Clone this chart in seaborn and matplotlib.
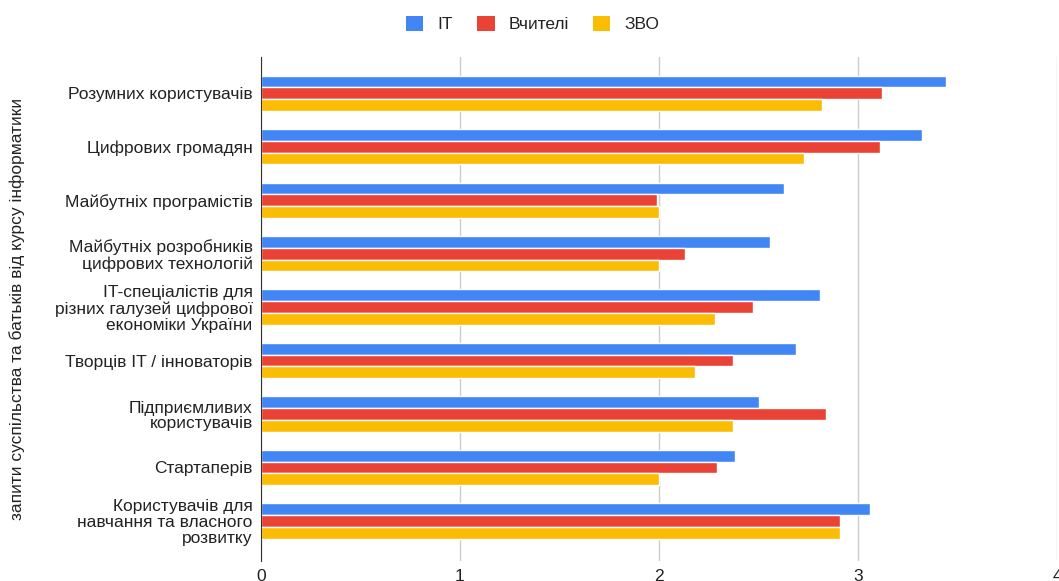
import matplotlib.pyplot as plt
import seaborn as sns
import pandas as pd

# data
categories = [
    "Розумних користувачів",
    "Цифрових громадян",
    "Майбутніх програмістів",
    "Майбутніх розробників\nцифрових технологій",
    "IT-спеціалістів для\nрізних галузей цифрової\nекономіки України",
    "Творців IT / інноваторів",
    "Підприємливих\nкористувачів",
    "Стартаперів",
    "Користувачів для\nнавчання та власного\nрозвитку",
]
it_vals = [3.44, 3.32, 2.63, 2.56, 2.81, 2.69, 2.50, 2.38, 3.06]
teach_vals = [3.12, 3.11, 1.99, 2.13, 2.47, 2.37, 2.84, 2.29, 2.91]
uni_vals = [2.82, 2.73, 2.00, 2.00, 2.28, 2.18, 2.37, 2.00, 2.91]
series = ["IT", "Вчителі", "ЗВО"]
colors = ["#4285F4", "#EA4335", "#FBBC04"]

df = pd.DataFrame({"cat": categories, "IT": it_vals, "Вчителі": teach_vals, "ЗВО": uni_vals})
long = df.melt(id_vars="cat", var_name="group", value_name="value")

sns.set_style("white")
plt.rcParams["font.family"] = ["Liberation Sans", "DejaVu Sans"]

fig = plt.figure(figsize=(10.59, 5.81), dpi=100)
ax = fig.add_axes([261 / 1059, 1 - 561 / 581, (1057 - 261) / 1059, (561 - 57) / 581])

sns.barplot(data=long, y="cat", x="value", hue="group", hue_order=series,
            palette=colors, saturation=1, orient="h", width=0.66,
            edgecolor="white", linewidth=1, ax=ax, legend=False)

ax.set_xlim(0, 4)
ax.set_ylim(8.75, -0.68)
ax.set_xticks([0, 1, 2, 3, 4])
ax.grid(axis="x", color="#cccccc", linewidth=1)
ax.set_axisbelow(True)
for s in ["top", "right", "bottom"]:
    ax.spines[s].set_visible(False)
ax.spines["left"].set_color("#333333")
ax.tick_params(axis="y", length=0, labelsize=12.5, colors="#222222", pad=6)
ax.tick_params(axis="x", length=0, labelsize=12.5, colors="#222222", pad=6)
ax.set_xlabel("")
ax.set_ylabel("запити суспільства та батьків від курсу інформатики",
              fontsize=12.5, color="#222222")
ax.yaxis.set_label_coords(-236 / (1057 - 261), 0.5)
for lbl in ax.get_yticklabels():
    lbl.set_horizontalalignment("right")
    lbl.set_multialignment("right")
    lbl.set_linespacing(1.08)

handles = [plt.Rectangle((0, 0), 1, 1, facecolor=c, edgecolor="none") for c in colors]
fig.legend(handles, series, loc="upper center", bbox_to_anchor=(0.503, 1.0),
           ncol=3, frameon=False, fontsize=12.5, handlelength=1.0, handleheight=1.0,
           columnspacing=1.4, handletextpad=0.8, labelcolor="#222222")

fig.savefig("out.png", dpi=100)
